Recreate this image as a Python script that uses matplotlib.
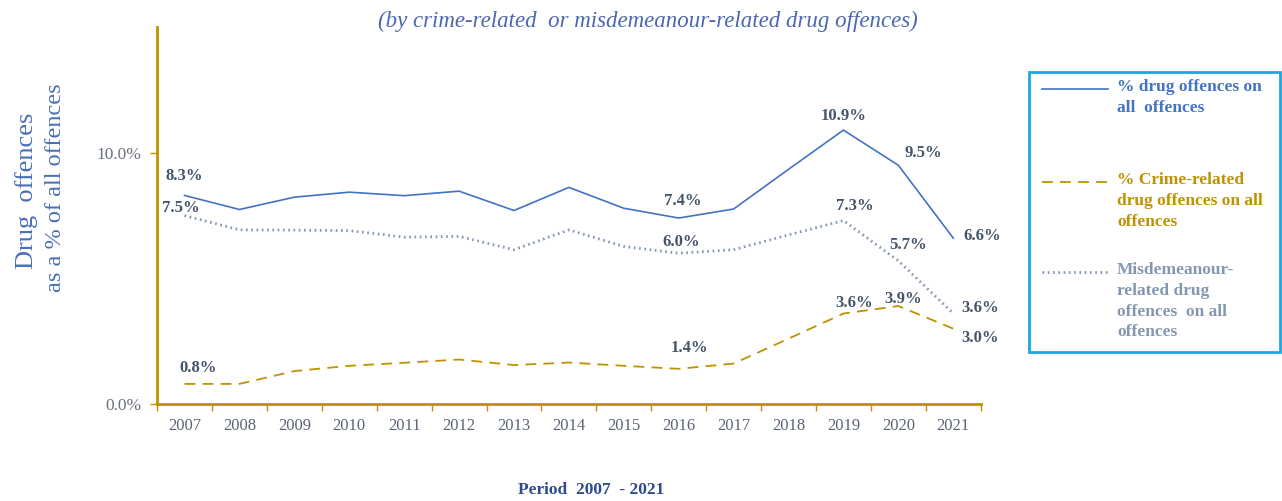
import numpy as np
import matplotlib.pyplot as plt
from matplotlib.lines import Line2D
from matplotlib.patches import Rectangle

plt.rcParams['font.family'] = ['Liberation Serif', 'DejaVu Serif']

years = ['2007', '2008', '2009', '2010', '2011', '2012', '2013', '2014',
         '2015', '2016', '2017', '2018', '2019', '2020', '2021']
total_pct = [8.3, 7.74, 8.23, 8.43, 8.29, 8.47, 7.7, 8.62, 7.79, 7.4, 7.76, 9.34, 10.9, 9.5, 6.6]
crime_pct = [0.8, 0.8, 1.31, 1.52, 1.64, 1.77, 1.55, 1.65, 1.52, 1.4, 1.61, 2.6, 3.6, 3.9, 3.0]
misd_pct = [7.5, 6.93, 6.92, 6.9, 6.64, 6.67, 6.14, 6.93, 6.27, 6.0, 6.14, 6.73, 7.3, 5.7, 3.6]

# which points get a value label, and where (pixel offsets from the point)
total_lbl = {0: (0, 19), 9: (4, 17), 12: (0, 14), 13: (25, 12), 14: (29, 2)}
crime_lbl = {0: (14, 16), 9: (11, 21), 12: (11, 11), 13: (5, 7), 14: (27, -9)}
misd_lbl = {0: (-4, 8), 9: (2, 11), 12: (11, 15), 13: (10, 16), 14: (27, 6)}

gold = '#C09100'
blue = '#4472C4'
grey_blue = '#8497B0'
lbl_col = '#44546A'

fig = plt.figure(figsize=(12.82, 5.01), dpi=100)
ax = fig.add_axes([0.1225, 0.1936, 0.6425, 0.7524])

x = np.arange(len(years))
ax.plot(x, total_pct, color=blue, lw=1.2)
ax.plot(x, crime_pct, color=gold, lw=1.3, dashes=(6, 4))
ax.plot(x, misd_pct, color=grey_blue, lw=2.0, linestyle=(0, (0.6, 1.3)))

for vals, lbls in [(total_pct, total_lbl), (crime_pct, crime_lbl), (misd_pct, misd_lbl)]:
    for i, off in lbls.items():
        ax.annotate(f'{vals[i]:.1f}%', (x[i], vals[i]), xytext=off,
                    textcoords='offset pixels', ha='center', va='center',
                    fontsize=12, fontweight='bold', color=lbl_col)

ax.set_xlim(-0.5, len(years) - 0.5)
ax.set_ylim(0, 15)
ax.set_yticks([0, 10])
ax.set_yticklabels(['0.0%', '10.0%'], fontsize=12.5, color='#6B7280')
ax.set_xticks(x)
ax.set_xticklabels(years, fontsize=12, color='#5A6478')
ax.set_xticks(np.arange(-0.5, len(years)), minor=True)
ax.tick_params(axis='x', which='major', length=0, pad=10)
ax.tick_params(axis='x', which='minor', length=5, width=1, color=gold)
ax.tick_params(axis='y', length=5, width=1, color=gold, pad=6)

for s in ['top', 'right']:
    ax.spines[s].set_visible(False)
for s in ['left', 'bottom']:
    ax.spines[s].set_color(gold)
    ax.spines[s].set_linewidth(2)

fig.text(0.505, 0.958, '(by crime-related  or misdemeanour-related drug offences)',
         ha='center', va='center', fontsize=16.5, style='italic', color='#4A67B0')
fig.text(0.021, 0.62, 'Drug  offences', rotation=90, ha='center', va='center',
         fontsize=19, color='#4A6FB5')
fig.text(0.043, 0.625, 'as a % of all offences', rotation=90, ha='center', va='center',
         fontsize=17.5, color='#4A6FB5')
fig.text(0.461, 0.022, 'Period  2007  - 2021', ha='center', va='center',
         fontsize=12.5, fontweight='bold', color='#2E4B8C')

# legend box on the right
W, H = 1282, 501
fig.add_artist(Rectangle((1029 / W, 1 - 352 / H), 251 / W, 280 / H, transform=fig.transFigure,
                         fill=False, edgecolor='#1CA8DD', lw=2))
entries = [
    (89, dict(color=blue, lw=1.2), '% drug offences on\nall  offences', blue),
    (182, dict(color=gold, lw=1.3, dashes=(6, 4)), '% Crime-related\ndrug offences on all\noffences', gold),
    (272, dict(color=grey_blue, lw=2.0, linestyle=(0, (0.6, 1.3))),
     'Misdemeanour-\nrelated drug\noffences  on all\noffences', grey_blue),
]
for ypix, style, text, col in entries:
    fig.add_artist(Line2D([1042 / W, 1108 / W], [1 - ypix / H] * 2,
                          transform=fig.transFigure, **style))
    fig.text(1117 / W, 1 - (ypix - 10) / H, text, ha='left', va='top',
             fontsize=12.5, fontweight='bold', color=col, linespacing=1.4)

fig.savefig('out.png', dpi=100)
